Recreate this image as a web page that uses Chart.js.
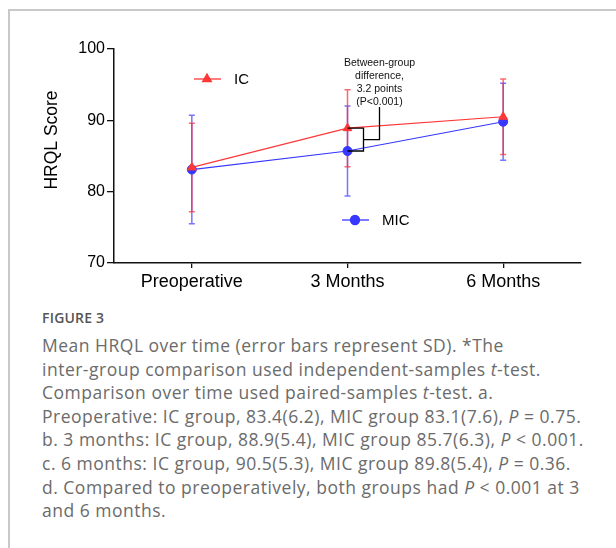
<!DOCTYPE html>
<html><head><meta charset="utf-8">
<script src="https://cdn.jsdelivr.net/npm/chart.js@4.4.1/dist/chart.umd.min.js"></script>
<style>
html,body{margin:0;padding:0;background:#fff;width:616px;height:548px;overflow:hidden;}
#card{position:absolute;left:8px;top:9px;width:700px;height:700px;border-left:2px solid #c9c9c9;border-top:2px solid #c9c9c9;}
#wrap{position:absolute;left:0;top:0;width:616px;height:300px;}
#fig{position:absolute;left:42px;top:308px;font:600 14px/20px "Open Sans",sans-serif;color:#555;white-space:nowrap;letter-spacing:0.2px;}
#cap{position:absolute;left:42px;top:334px;width:570px;font:400 17.5px/23.6px "Open Sans",sans-serif;letter-spacing:0.5px;color:#6b6b6b;white-space:nowrap;}
</style></head><body>
<div id="card"></div>
<div id="wrap"><canvas id="c" width="616" height="300"></canvas></div>
<div id="fig">FIGURE 3</div>
<div id="cap">Mean HRQL over time (error bars represent SD). *The<br>inter-group comparison used independent-samples <i>t</i>-test.<br>Comparison over time used paired-samples <i>t</i>-test. a.<br>Preoperative: IC group, 83.4(6.2), MIC group 83.1(7.6), <i>P</i> = 0.75.<br>b. 3 months: IC group, 88.9(5.4), MIC group 85.7(6.3), <i>P</i> &lt; 0.001.<br>c. 6 months: IC group, 90.5(5.3), MIC group 89.8(5.4), <i>P</i> = 0.36.<br>d. Compared to preoperatively, both groups had <i>P</i> &lt; 0.001 at 3<br>and 6 months.</div>
<script>
const categories = ['Preoperative', '3 Months', '6 Months'];
const icMean = [83.4, 88.9, 90.5];
const icSD = [6.2, 5.4, 5.3];
const micMean = [83.1, 85.7, 89.8];
const micSD = [7.6, 6.3, 5.4];
const yTicks = [70, 80, 90, 100];
const annotationLines = ['Between-group', 'difference,', '3.2 points', '(P<0.001)'];
const yTitle = 'HRQL Score';

const FONT = '"Liberation Sans", Arial, sans-serif';
const RED = 'rgb(255,55,55)';
const BLUE = 'rgb(55,55,255)';

const errorBars = {
  id: 'errorBars',
  beforeDatasetsDraw(chart) {
    const ctx = chart.ctx, ys = chart.scales.y;
    [1, 0].forEach(di => {
      const ds = chart.data.datasets[di];
      const meta = chart.getDatasetMeta(di);
      ctx.save();
      ctx.strokeStyle = ds.errorColor;
      ctx.lineWidth = 1.5;
      meta.data.forEach((pt, i) => {
        const m = ds.data[i], s = ds.sd[i];
        const yt = ys.getPixelForValue(m + s), yb = ys.getPixelForValue(m - s);
        const x = pt.x;
        ctx.beginPath();
        ctx.moveTo(x, yt); ctx.lineTo(x, yb);
        ctx.moveTo(x - 3, yt); ctx.lineTo(x + 3, yt);
        ctx.moveTo(x - 3, yb); ctx.lineTo(x + 3, yb);
        ctx.stroke();
      });
      ctx.restore();
    });
  }
};

const extras = {
  id: 'extras',
  afterDatasetsDraw(chart) {
    const ctx = chart.ctx, xs = chart.scales.x, ys = chart.scales.y, ca = chart.chartArea;
    const x3 = xs.getPixelForValue(1);
    const yIC = ys.getPixelForValue(icMean[1]);
    const yMIC = ys.getPixelForValue(micMean[1]);
    const mid = (yIC + yMIC) / 2;
    ctx.save();
    ctx.strokeStyle = '#000';
    ctx.lineWidth = 1.3;
    ctx.beginPath();
    ctx.moveTo(x3, yIC); ctx.lineTo(x3 + 16, yIC); ctx.lineTo(x3 + 16, yMIC); ctx.lineTo(x3, yMIC);
    ctx.moveTo(x3 + 16, mid); ctx.lineTo(x3 + 32, mid); ctx.lineTo(x3 + 32, ca.top + 58);
    ctx.stroke();
    ctx.fillStyle = '#111';
    ctx.font = '10.5px ' + FONT;
    ctx.textAlign = 'center';
    ctx.textBaseline = 'middle';
    annotationLines.forEach((t, i) => ctx.fillText(t, x3 + 32, ca.top + 14 + i * 13));
    const leg = [
      {label: chart.data.datasets[0].label, color: RED, style: 'triangle', r: 5, x: ca.left + 80, y: ca.top + 30},
      {label: chart.data.datasets[1].label, color: BLUE, style: 'circle', r: 4.5, x: ca.left + 228, y: ca.top + 171}
    ];
    leg.forEach(l => {
      ctx.strokeStyle = l.color; ctx.lineWidth = 1.3;
      ctx.beginPath(); ctx.moveTo(l.x, l.y); ctx.lineTo(l.x + 27, l.y); ctx.stroke();
      ctx.fillStyle = l.color;
      Chart.helpers.drawPoint(ctx, {pointStyle: l.style, radius: l.r, borderWidth: 1}, l.x + 13, l.y);
      ctx.fill();
      ctx.fillStyle = '#000';
      ctx.font = '15px ' + FONT;
      ctx.textAlign = 'left';
      ctx.fillText(l.label, l.x + 40, l.y + 1);
    });
    ctx.translate(52, 140);
    ctx.rotate(-Math.PI / 2);
    ctx.font = '17.5px ' + FONT;
    ctx.textAlign = 'center';
    ctx.fillStyle = '#000';
    ctx.fillText(yTitle, 0, 0);
    ctx.restore();
  }
};

new Chart(document.getElementById('c'), {
  type: 'line',
  data: {
    labels: categories,
    datasets: [
      {label: 'IC', data: icMean, sd: icSD, errorColor: 'rgba(255,40,50,0.7)', borderColor: RED, backgroundColor: RED,
       borderWidth: 1.2, pointStyle: 'triangle', pointRadius: 5, pointBorderWidth: 1, pointBorderColor: RED, tension: 0},
      {label: 'MIC', data: micMean, sd: micSD, errorColor: 'rgba(60,60,255,0.7)', borderColor: BLUE, backgroundColor: BLUE,
       borderWidth: 1.2, pointStyle: 'circle', pointRadius: 4.5, pointBorderWidth: 1, pointBorderColor: BLUE, tension: 0}
    ]
  },
  options: {
    responsive: false,
    animation: false,
    events: [],
    layout: {padding: {left: 0, right: 35, top: 49, bottom: 0}},
    plugins: {legend: {display: false}, tooltip: {enabled: false}},
    scales: {
      x: {
        offset: true,
        grid: {display: true, drawOnChartArea: false, drawTicks: true, tickLength: 5, color: '#111', lineWidth: 1.3, offset: false},
        border: {display: true, color: '#111', width: 1.5},
        ticks: {color: '#000', font: {family: FONT, size: 18}, padding: 3, maxRotation: 0},
        afterFit(s) { s.height = 37; }
      },
      y: {
        min: 70, max: 100,
        afterBuildTicks(s) { s.ticks = yTicks.map(v => ({value: v})); },
        grid: {display: true, drawOnChartArea: false, drawTicks: true, tickLength: 7, color: '#111', lineWidth: 1.3},
        border: {display: true, color: '#111', width: 1.5},
        ticks: {color: '#000', font: {family: FONT, size: 16}, padding: 2},
        afterFit(s) { s.width = 114; }
      }
    }
  },
  plugins: [errorBars, extras]
});
</script>
</body></html>
